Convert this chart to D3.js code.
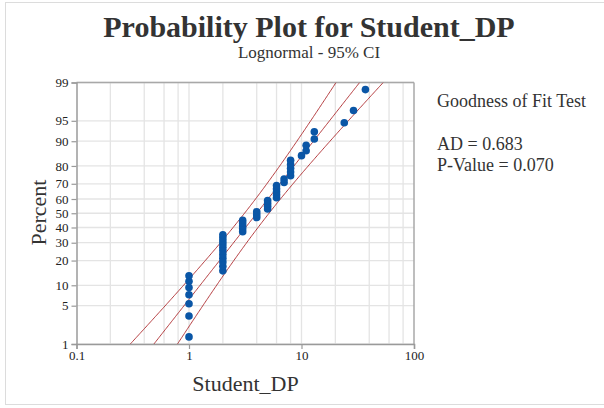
<!DOCTYPE html>
<html>
<head>
<meta charset="utf-8">
<script src="https://cdn.jsdelivr.net/npm/d3@7/dist/d3.min.js"></script>
<style>
  html, body { margin: 0; padding: 0; background: #fff; }
  svg { display: block; }
  text { font-family: "Liberation Serif", "Times New Roman", serif; fill: #333; }
</style>
</head>
<body>
<svg id="chart" width="604" height="408"></svg>
<script>
// Observations of Student_DP (sorted)
const studentDP = [
  1, 1, 1, 1, 1, 1, 1,
  2, 2, 2, 2, 2, 2, 2, 2, 2, 2, 2,
  3, 3, 3, 3, 3,
  4, 4, 4,
  5, 5, 5, 5,
  6, 6, 6, 6, 6,
  7, 7,
  8, 8, 8, 8, 8,
  10,
  11, 11,
  13, 13,
  24, 29, 37
];

// Axis ticks
const percentTicks = [1, 5, 10, 20, 30, 40, 50, 60, 70, 80, 90, 95, 99];
const xTickValues = [0.1, 1, 10, 100];
const xGridValues = [0.2, 0.4, 0.6, 0.8, 1, 2, 4, 6, 8, 10, 20, 40, 60, 80];

// Text
const titleText = "Probability Plot for Student_DP";
const subtitleText = "Lognormal - 95% CI";
const xLabel = "Student_DP";
const yLabel = "Percent";
const gofTitle = "Goodness of Fit Test";
const gofLines = ["AD = 0.683", "P-Value = 0.070"];

// Inverse standard normal CDF (Acklam's rational approximation)
function probit(p) {
  const a = [-39.69683028665376, 220.9460984245205, -275.9285104469687,
             138.3577518672690, -30.66479806614716, 2.506628277459239];
  const b = [-54.47609879822406, 161.5858368580409, -155.6989798598866,
             66.80131188771972, -13.28068155288572];
  const c = [-0.007784894002430293, -0.3223964580411365, -2.400758277161838,
             -2.549732539343734, 4.374664141464968, 2.938163982698783];
  const d = [0.007784695709041462, 0.3224671290700398, 2.445134137142996,
             3.754408661907416];
  const pl = 0.02425, ph = 1 - pl;
  let q, r;
  if (p < pl) {
    q = Math.sqrt(-2 * Math.log(p));
    return (((((c[0]*q + c[1])*q + c[2])*q + c[3])*q + c[4])*q + c[5]) /
           ((((d[0]*q + d[1])*q + d[2])*q + d[3])*q + 1);
  } else if (p <= ph) {
    q = p - 0.5; r = q * q;
    return (((((a[0]*r + a[1])*r + a[2])*r + a[3])*r + a[4])*r + a[5]) * q /
           (((((b[0]*r + b[1])*r + b[2])*r + b[3])*r + b[4])*r + 1);
  } else {
    q = Math.sqrt(-2 * Math.log(1 - p));
    return -(((((c[0]*q + c[1])*q + c[2])*q + c[3])*q + c[4])*q + c[5]) /
            ((((d[0]*q + d[1])*q + d[2])*q + d[3])*q + 1);
  }
}

const svg = d3.select("#chart");

// Outer frame
svg.append("rect")
  .attr("x", 5.5).attr("y", 2.5).attr("width", 640).attr("height", 402)
  .attr("fill", "none").attr("stroke", "#dcdcdc").attr("stroke-width", 1);

// Plot region
const plot = { left: 76.5, right: 414, top: 82.5, bottom: 344 };

const x = d3.scaleLog().domain([0.1, 100]).range([plot.left, plot.right]);
const y = d3.scaleLinear()
  .domain([probit(0.01), probit(0.99)])
  .range([plot.bottom, plot.top]);

// Lognormal fit (maximum likelihood on ln values)
const n = studentDP.length;
const logs = studentDP.map(v => Math.log(v));
const mu = d3.mean(logs);
const sigma = Math.sqrt(d3.mean(logs.map(l => (l - mu) * (l - mu))));
const zCrit = 1.959964;

// Gridlines
const grid = svg.append("g");
grid.selectAll("line.v").data(xGridValues).join("line")
  .attr("x1", d => x(d)).attr("x2", d => x(d))
  .attr("y1", plot.top).attr("y2", plot.bottom)
  .attr("stroke", "#e4e4e4").attr("stroke-width", 1.3);
grid.selectAll("line.h").data(percentTicks).join("line")
  .attr("x1", plot.left).attr("x2", plot.right)
  .attr("y1", d => y(probit(d / 100))).attr("y2", d => y(probit(d / 100)))
  .attr("stroke", "#e4e4e4").attr("stroke-width", 1.3);

// Frame (top, right)
svg.append("line")
  .attr("x1", plot.left).attr("x2", plot.right)
  .attr("y1", plot.top).attr("y2", plot.top)
  .attr("stroke", "#a8a8a8").attr("stroke-width", 1.5);
svg.append("line")
  .attr("x1", plot.right).attr("x2", plot.right)
  .attr("y1", plot.top).attr("y2", plot.bottom)
  .attr("stroke", "#a8a8a8").attr("stroke-width", 1.5);

// Fitted line and confidence bands, clipped to the plot region
svg.append("clipPath").attr("id", "plot-clip")
  .append("rect")
  .attr("x", plot.left).attr("y", plot.top)
  .attr("width", plot.right - plot.left).attr("height", plot.bottom - plot.top);

const zs = d3.range(0, 201).map(i => y.domain()[0] + (y.domain()[1] - y.domain()[0]) * i / 200);
const bandLine = k => zs.map(z => {
  const half = zCrit * sigma * Math.sqrt(1 / n + z * z / (2 * n));
  return [Math.exp(mu + z * sigma + k * half), z];
});
const lineGen = d3.line().x(d => x(d[0])).y(d => y(d[1]));

const fitG = svg.append("g").attr("clip-path", "url(#plot-clip)");
[-1, 0, 1].forEach(k => {
  fitG.append("path")
    .attr("d", lineGen(bandLine(k)))
    .attr("fill", "none")
    .attr("stroke", "#a81c20")
    .attr("stroke-opacity", 0.85)
    .attr("stroke-width", 1);
});

// Data points at median-rank plotting positions
const pts = studentDP.map((v, i) => ({ v, p: (i + 1 - 0.3) / (n + 0.4) }));
svg.append("g").selectAll("circle").data(pts).join("circle")
  .attr("cx", d => x(d.v))
  .attr("cy", d => y(probit(d.p)))
  .attr("r", 3.8)
  .attr("fill", "#0a56a6");

// Axes
const yAxis = d3.axisLeft(y)
  .tickValues(percentTicks.map(p => probit(p / 100)))
  .tickFormat((d, i) => percentTicks[i])
  .tickSize(5).tickPadding(3);
const yg = svg.append("g").attr("transform", `translate(${plot.left},0)`).call(yAxis);

const xAxis = d3.axisBottom(x)
  .tickValues(xTickValues)
  .tickFormat(d => d3.format("")(d))
  .tickSize(5).tickPadding(2);
const xg = svg.append("g").attr("transform", `translate(0,${plot.bottom})`).call(xAxis);

[yg, xg].forEach(g => {
  g.attr("font-size", null).attr("font-family", null);
  g.select(".domain").attr("stroke", "#9a9a9a").attr("stroke-width", 1.5);
  g.selectAll(".tick line").attr("stroke", "#9a9a9a").attr("stroke-width", 1.2);
  g.selectAll(".tick text")
    .style("font-family", "'Liberation Serif', 'Times New Roman', serif")
    .style("font-size", "13px").style("fill", "#222");
});

// Titles
svg.append("text")
  .attr("x", 309).attr("y", 37)
  .attr("text-anchor", "middle")
  .style("font-size", "30px").style("font-weight", "bold")
  .text(titleText);
svg.append("text")
  .attr("x", 309).attr("y", 58)
  .attr("text-anchor", "middle")
  .style("font-size", "17px")
  .text(subtitleText);

// Axis labels
svg.append("text")
  .attr("x", 245.5).attr("y", 391)
  .attr("text-anchor", "middle")
  .style("font-size", "22px")
  .text(xLabel);
svg.append("text")
  .attr("transform", "translate(46,212.5) rotate(-90)")
  .attr("text-anchor", "middle")
  .style("font-size", "22px")
  .text(yLabel);

// Goodness of fit panel
svg.append("text")
  .attr("x", 437).attr("y", 107)
  .style("font-size", "18px")
  .text(gofTitle);
svg.append("g").selectAll("text").data(gofLines).join("text")
  .attr("x", 437)
  .attr("y", (d, i) => 150 + i * 20.5)
  .style("font-size", "18px")
  .text(d => d);
</script>
</body>
</html>
